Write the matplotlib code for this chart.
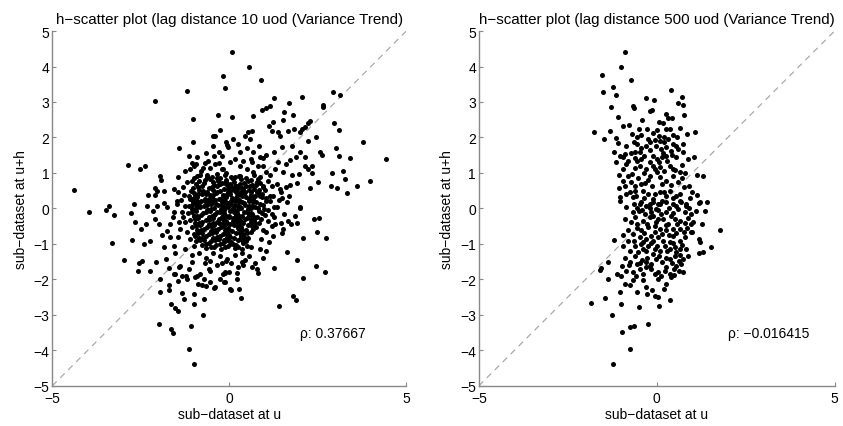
import numpy as np
import matplotlib
matplotlib.use("Agg")
import matplotlib.pyplot as plt

plt.rcParams['font.family'] = ['Liberation Sans', 'DejaVu Sans']

# ---- data (u, u+h) ----
# lag 10: sparse outer points
lag10_outer = [
    (-4.40, 0.52), (-2.11, 3.04), (-1.20, 3.31), (-0.18, 3.74), (-0.11, 3.39), (-1.03, 2.52),
    (-0.33, 2.64), (-0.25, 2.22), (-0.46, 2.05), (-0.40, 2.03), (-1.03, 1.88), (-1.41, 1.71),
    (-0.66, 1.56), (-0.46, 1.75), (-0.44, 1.49), (-1.14, 1.49), (-1.05, 1.28), (-0.99, 1.21),
    (-0.94, 1.24), (-2.87, 1.22), (-2.53, 1.12), (-2.38, 1.20), (-1.95, 0.91), (-1.93, 0.80),
    (-1.44, 0.90), (-1.20, 0.74), (-1.06, 0.77), (-1.01, 0.86), (-0.91, 0.91), (-0.84, 0.93),
    (-0.70, 1.28), (-0.59, 1.33), (-0.28, 1.28), (-0.21, 1.10), (-0.07, 1.80), (-2.09, 0.58),
    (-2.04, 0.49), (-1.84, 0.49), (-1.55, 0.55), (-2.29, 0.37), (-2.09, 0.37), (-1.84, 0.16),
    (-2.70, 0.13), (-3.39, 0.06), (-1.29, 0.39), (-1.15, 0.35), (-1.01, 0.44), (-1.48, 0.20),
    (-2.33, 0.06),
    (-3.95, -0.09), (-3.48, -0.05), (-3.25, -0.19), (-3.31, -0.98), (-2.98, -1.46), (-2.78, -0.14),
    (-2.66, -0.38), (-2.75, -0.88), (-2.50, -0.59), (-2.40, -1.01), (-2.34, -0.44), (-2.16, -0.06),
    (-2.23, -0.92), (-2.55, -1.53), (-2.46, -1.48), (-2.58, -1.77), (-2.25, -1.75), (-2.06, -1.51),
    (-1.95, -2.00), (-1.99, -0.43), (-1.95, -2.36), (-1.71, -2.31), (-1.65, -2.70), (-1.53, -2.80),
    (-1.44, -2.89), (-1.98, -3.25), (-1.65, -3.39), (-1.60, -3.50), (-1.13, -3.97), (-1.01, -4.39),
    (-1.07, -3.31), (-0.75, -3.00), (-0.72, -2.56), (-0.99, -2.68), (-0.99, -2.42), (-1.34, -2.39),
    (-1.29, -2.54), (-1.22, -1.89), (-0.91, -1.91), (-0.72, -1.98), (-0.67, -2.19), (-0.88, -2.14),
    (-0.42, -2.23), (-0.54, -2.08), (-0.16, -2.07), (-0.11, -1.83), (0.01, -2.28), (-1.57, -1.86),
    (-1.71, -1.67), (-1.78, -1.42), (-1.46, -2.05), (-1.38, -1.62), (-1.53, -1.25),
    (2.01, 0.02), (2.40, -0.31), (2.53, -0.27), (1.92, -0.40), (2.47, -0.67), (2.74, -0.83),
    (2.08, -0.83), (1.53, -0.57), (1.48, -0.69), (1.20, -0.50), (1.24, -0.78), (1.62, -1.22),
    (1.90, -1.46), (2.46, -1.62), (2.71, -1.79), (2.09, -1.96), (1.27, -1.68), (1.81, -2.47),
    (1.88, -2.59), (1.41, -2.76), (0.73, -1.53), (0.77, -1.72), (0.82, -1.81), (0.40, -1.58),
    (0.23, -1.83), (0.00, -1.79), (-0.11, -2.06), (0.04, -2.30), (0.26, -2.26), (0.33, -2.52),
    (-0.08, -1.48), (-0.19, -1.86), (0.96, -1.39), (1.05, -1.20), (0.87, -1.15),
    (0.07, 4.41), (0.56, 3.98), (0.89, 3.62), (2.94, 3.27), (3.14, 3.20), (2.66, 2.91),
    (2.64, 2.85), (2.04, 3.15), (1.70, 2.96), (1.26, 3.10), (1.15, 2.90), (0.91, 2.78),
    (1.04, 2.82), (0.08, 2.58), (0.68, 2.60), (1.55, 2.71), (1.79, 2.63), (1.52, 2.50),
    (2.28, 2.47), (2.23, 2.41), (1.24, 2.45), (1.13, 2.31), (1.22, 2.19), (2.14, 2.29),
    (2.04, 2.24), (2.00, 2.15), (1.83, 2.24), (1.65, 2.19), (1.38, 2.15), (1.43, 2.03),
    (2.96, 2.41), (3.10, 2.21), (2.44, 2.00), (3.79, 1.86), (2.23, 1.91), (3.01, 1.71),
    (2.56, 1.58), (2.61, 1.52), (3.09, 1.47), (3.42, 1.41), (4.42, 1.39), (1.48, 1.72),
    (1.76, 1.77), (2.00, 1.60), (2.14, 1.46), (1.88, 1.44), (1.71, 1.37), (1.05, 1.51),
    (0.94, 1.41), (1.38, 1.30), (2.14, 1.19), (2.23, 1.11), (2.33, 1.21), (1.98, 0.97),
    (2.33, 1.00), (1.53, 1.02), (1.78, 0.94), (1.72, 0.66), (1.90, 0.72), (1.43, 0.55),
    (2.28, 0.59), (2.50, 0.74), (2.90, 0.99), (3.20, 1.06), (3.28, 0.84), (2.88, 0.64),
    (3.05, 0.57), (3.32, 0.44), (3.62, 0.64), (3.98, 0.76), (2.00, 0.03), (1.62, 0.17),
    (1.24, 0.36),
]

# lag 10: mid ring around the core
lag10_mid = [
    (-0.08, 1.86), (-0.03, 1.72), (0.11, 1.96), (0.25, 1.82), (0.44, 2.05), (0.54, 2.15),
    (0.63, 2.19), (0.58, 1.96), (0.30, 1.58), (0.16, 1.39), (0.02, 1.30), (-0.17, 1.11),
    (-0.22, 1.49), (0.40, 1.35), (0.68, 1.58), (0.87, 1.44), (0.63, 1.30), (0.49, 1.11),
    (0.30, 0.92), (0.11, 0.83), (-0.08, 0.74), (0.68, 1.02), (0.87, 0.88), (0.96, 1.21),
    (1.05, 1.02), (0.77, 0.74), (0.58, 0.64), (0.40, 0.55), (0.21, 0.46), (0.96, 0.64),
    (1.10, 0.78), (1.15, 0.36), (0.87, 0.36), (0.68, 0.27), (-0.08, 0.36), (-0.17, 0.17),
    (-0.80, 1.05), (-0.55, 1.15), (-0.35, 0.98), (-1.25, 1.05), (-0.62, 0.88),
    (-1.48, 0.13), (-1.76, 0.03), (-2.04, 0.08), (-1.57, -0.11), (-1.34, -0.11), (-1.24, -0.39),
    (-1.43, -0.39), (-1.67, -0.44), (-1.76, -0.63), (-1.67, -0.81), (-1.57, -1.05), (-1.38, -0.58),
    (-1.20, -0.67), (-1.10, -0.86), (-0.96, -0.77), (-1.01, -0.20), (-1.24, 0.08), (-1.06, 0.27),
    (-1.71, -2.17), (-1.52, -1.85), (-1.43, -1.66), (-1.34, -1.89), (-1.20, -1.99), (-1.15, -1.70),
    (-1.06, -1.52), (-0.96, -1.94), (-0.82, -1.85), (-0.77, -2.17), (-0.58, -1.70), (-0.54, -1.47),
    (-0.40, -2.22), (-0.26, -1.99), (-0.12, -1.80), (-0.07, -1.42), (0.22, -1.99),
    (1.15, 0.20), (1.35, 0.05), (1.55, -0.15), (1.25, -0.25), (1.70, 0.35), (1.10, -0.05),
    (1.45, 0.45), (1.85, -0.20), (1.30, -0.45), (1.05, -0.65), (1.60, 0.60), (1.20, 0.62),
    (1.40, 0.25), (1.75, -0.45), (1.12, -0.95),
    (-0.45, -1.25), (-0.25, -1.35), (0.15, -1.30), (0.35, -1.25), (0.55, -1.35), (-0.65, -1.40),
    (0.05, -1.55), (0.45, -1.45), (-0.35, -1.60), (0.60, -1.10), (-0.85, -1.25), (0.25, -1.65),
    (-0.55, -1.75), (0.65, -1.65),
    (1.25, 0.05), (1.50, 0.30), (1.35, 0.70), (1.65, -0.35), (1.05, 0.30), (1.20, -0.15),
    (1.45, -0.40), (1.15, 0.95), (1.30, 1.10), (0.80, 1.20), (0.60, 1.40), (0.30, 1.20),
    (-0.10, 1.00), (-0.40, 1.25), (-0.75, 1.15), (-1.10, 1.10), (-1.30, 0.60), (-1.45, 0.45),
    (-1.35, 0.25), (-1.30, -0.25), (-1.45, -0.80), (-1.25, -1.15), (-1.05, -1.30), (-1.00, -1.05),
    (-0.70, -1.55), (-0.20, -1.55), (0.35, -1.50), (0.90, -0.85), (0.95, -0.60), (1.10, -0.35),
    (-1.60, -0.25), (-1.90, -0.75), (-1.85, -1.10), (-2.10, -0.30), (-0.90, 1.45), (-0.30, 1.60),
    (0.50, 1.70), (0.85, 1.75), (1.25, 1.60), (1.60, 1.25),
]

# lag 10: dense core (estimated, too crowded to read one by one)
lag10_core = [
    (-0.62, 0.93), (-0.35, 0.87), (-0.12, 0.95), (0.05, 0.88), (0.28, 0.92), (0.46, 0.86), (0.71, 0.94),
    (-0.85, 0.78), (-0.55, 0.83), (-0.31, 0.76), (-0.08, 0.81), (0.14, 0.75), (0.33, 0.82), (0.52, 0.77),
    (0.80, 0.83), (-0.95, 0.68), (-0.71, 0.72), (-0.44, 0.66), (-0.22, 0.73), (0.02, 0.69), (0.19, 0.64),
    (0.41, 0.71), (0.63, 0.67), (0.88, 0.72), (-1.02, 0.57), (-0.78, 0.62), (-0.57, 0.58), (-0.36, 0.63),
    (-0.15, 0.56), (0.07, 0.61), (0.25, 0.58), (0.48, 0.63), (0.69, 0.56), (0.95, 0.60), (-1.08, 0.48),
    (-0.86, 0.52), (-0.64, 0.46), (-0.45, 0.53), (-0.26, 0.49), (-0.05, 0.45), (0.12, 0.52), (0.33, 0.47),
    (0.55, 0.51), (0.77, 0.46), (1.02, 0.52), (-0.98, 0.38), (-0.77, 0.42), (-0.55, 0.37), (-0.37, 0.43),
    (-0.18, 0.39), (0.01, 0.41), (0.21, 0.36), (0.41, 0.42), (0.60, 0.38), (0.84, 0.41), (-1.12, 0.28),
    (-0.90, 0.32), (-0.68, 0.27), (-0.48, 0.31), (-0.29, 0.26), (-0.10, 0.33), (0.09, 0.29), (0.28, 0.25),
    (0.47, 0.32), (0.68, 0.28), (0.91, 0.31), (-1.03, 0.18), (-0.81, 0.22), (-0.60, 0.17), (-0.41, 0.23),
    (-0.22, 0.19), (-0.03, 0.16), (0.16, 0.22), (0.36, 0.18), (0.55, 0.21), (0.76, 0.17), (1.05, 0.22),
    (-1.15, 0.08), (-0.93, 0.12), (-0.71, 0.07), (-0.52, 0.13), (-0.33, 0.09), (-0.13, 0.06), (0.06, 0.12),
    (0.25, 0.08), (0.44, 0.11), (0.64, 0.07), (0.86, 0.12), (-1.06, -0.02), (-0.84, 0.03), (-0.63, -0.03),
    (-0.44, 0.02), (-0.24, -0.01), (-0.05, 0.03), (0.14, -0.04), (0.33, 0.01), (0.52, -0.02), (0.73, 0.03),
    (0.97, -0.01), (-1.18, -0.12), (-0.95, -0.08), (-0.74, -0.13), (-0.55, -0.07), (-0.35, -0.11),
    (-0.16, -0.14), (0.03, -0.08), (0.22, -0.12), (0.41, -0.09), (0.61, -0.13), (0.83, -0.07),
    (-1.00, -0.22), (-0.79, -0.18), (-0.58, -0.23), (-0.39, -0.17), (-0.19, -0.21), (0.00, -0.24),
    (0.18, -0.18), (0.37, -0.22), (0.57, -0.19), (0.78, -0.23), (1.01, -0.18), (-1.10, -0.32),
    (-0.88, -0.28), (-0.67, -0.33), (-0.47, -0.27), (-0.28, -0.31), (-0.09, -0.34), (0.10, -0.28),
    (0.29, -0.32), (0.49, -0.27), (0.70, -0.33), (-0.97, -0.42), (-0.76, -0.38), (-0.56, -0.43),
    (-0.36, -0.37), (-0.17, -0.41), (0.02, -0.44), (0.21, -0.38), (0.40, -0.42), (0.60, -0.37),
    (0.85, -0.41), (-1.05, -0.52), (-0.83, -0.48), (-0.63, -0.53), (-0.43, -0.47), (-0.24, -0.51),
    (-0.05, -0.54), (0.14, -0.48), (0.33, -0.52), (0.53, -0.47), (0.76, -0.51), (-0.92, -0.62),
    (-0.71, -0.58), (-0.51, -0.63), (-0.31, -0.57), (-0.12, -0.61), (0.07, -0.64), (0.26, -0.58),
    (0.46, -0.62), (0.68, -0.57), (-1.00, -0.72), (-0.78, -0.68), (-0.57, -0.73), (-0.38, -0.67),
    (-0.19, -0.71), (0.00, -0.74), (0.19, -0.68), (0.39, -0.72), (0.60, -0.67), (-0.86, -0.82),
    (-0.65, -0.78), (-0.45, -0.83), (-0.26, -0.77), (-0.07, -0.81), (0.12, -0.84), (0.32, -0.78),
    (0.53, -0.82), (-0.93, -0.92), (-0.71, -0.88), (-0.51, -0.93), (-0.32, -0.87), (-0.13, -0.91),
    (0.06, -0.94), (0.25, -0.88), (0.47, -0.92), (-0.78, -1.02), (-0.56, -0.98), (-0.37, -1.03),
    (-0.18, -0.97), (0.01, -1.01), (0.20, -1.04), (0.40, -0.98), (-0.65, -1.12), (-0.43, -1.08),
    (-0.23, -1.13), (-0.04, -1.07), (0.15, -1.11), (0.35, -1.14),
    (-0.50, 0.35), (-0.20, 0.30), (0.18, 0.45), (-0.38, 0.12), (0.05, 0.20), (0.30, 0.05),
    (-0.60, -0.05), (-0.15, -0.05), (0.45, -0.30), (-0.30, -0.40), (0.10, -0.35), (-0.55, -0.30),
    (0.25, -0.55), (-0.10, -0.65), (-0.45, -0.60), (0.55, 0.25), (-0.70, 0.20), (0.20, 0.62),
    (-0.25, 0.68), (0.50, -0.70), (-0.80, -0.45), (0.65, -0.15), (-0.05, 0.55), (0.35, 0.35),
    (-0.65, 0.40), (0.00, -0.20), (-0.20, -0.25), (0.20, -0.10), (-0.42, -0.18), (0.42, 0.15),
    (-0.85, 0.10), (0.80, 0.00), (-0.30, -0.85), (0.30, -0.85), (0.10, 0.00), (-0.10, 0.15),
    (0.60, 0.45), (-0.90, -0.25), (0.90, -0.30), (-0.15, -0.90),
    (-0.50, 0.90), (-0.25, 0.85), (0.15, 0.90), (0.60, 0.80), (-0.70, 0.80), (-0.45, 0.75),
    (-0.10, 0.70), (0.30, 0.70), (0.75, 0.65), (-0.88, 0.60), (-0.48, 0.60), (-0.05, 0.62),
    (0.37, 0.58), (0.83, 0.52), (-0.75, 0.48), (-0.35, 0.45), (0.02, 0.48), (0.45, 0.45),
    (0.92, 0.42), (-0.88, 0.40), (-0.45, 0.38), (-0.08, 0.38), (0.30, 0.40), (0.72, 0.36),
    (-1.00, 0.30), (-0.58, 0.28), (-0.18, 0.28), (0.18, 0.30), (0.58, 0.30), (-0.92, 0.20),
    (-0.50, 0.18), (-0.12, 0.22), (0.26, 0.18), (0.66, 0.19), (-1.05, 0.10), (-0.62, 0.10),
    (-0.22, 0.10), (0.15, 0.09), (0.55, 0.08), (0.96, 0.10), (-0.95, 0.00), (-0.52, -0.02),
    (-0.14, 0.00), (0.24, -0.02), (0.62, 0.00), (-1.06, -0.10), (-0.65, -0.10), (-0.26, -0.09),
    (0.12, -0.10), (0.51, -0.11), (0.93, -0.12), (-0.90, -0.20), (-0.48, -0.22), (-0.10, -0.20),
    (0.28, -0.20), (0.68, -0.20), (-0.98, -0.30), (-0.57, -0.30), (-0.18, -0.30), (0.20, -0.30),
    (0.60, -0.30), (-0.86, -0.40), (-0.46, -0.40), (-0.07, -0.40), (0.30, -0.40), (0.72, -0.40),
    (-0.94, -0.50), (-0.53, -0.50), (-0.14, -0.50), (0.24, -0.50), (0.64, -0.50), (-0.81, -0.60),
    (-0.41, -0.60), (-0.02, -0.60), (0.36, -0.60), (-0.89, -0.70), (-0.48, -0.70), (-0.09, -0.70),
    (0.29, -0.70), (-0.75, -0.80), (-0.35, -0.80), (0.02, -0.80), (0.42, -0.80), (-0.82, -0.90),
    (-0.41, -0.90), (-0.03, -0.90), (0.36, -0.90), (-0.66, -1.00), (-0.27, -1.00), (0.10, -1.00),
    (0.50, -1.05), (-0.53, -1.10), (-0.13, -1.10), (0.25, -1.10),
]

# lag 500
lag500_pts = [
    (-0.89, 4.41), (-0.99, 3.98), (-1.54, 3.77), (-0.72, 3.62), (-1.51, 3.27), (-1.23, 3.41),
    (-1.13, 3.21), (0.40, 3.33), (-0.29, 3.10), (-0.07, 3.06), (0.71, 3.15), (0.59, 2.97),
    (0.75, 2.92), (-1.29, 2.86), (-0.68, 2.88), (-0.65, 2.82), (-0.18, 2.75), (-0.12, 2.78),
    (-1.10, 2.58), (-0.41, 2.50), (0.27, 2.65), (0.32, 2.54), (0.78, 2.64), (0.06, 2.45),
    (0.18, 2.41), (0.44, 2.54), (-0.95, 2.31), (-0.78, 2.35), (-1.76, 2.16), (-1.32, 2.19),
    (-1.49, 1.96), (-1.15, 1.99), (-1.09, 1.84), (-0.50, 2.24), (-0.43, 2.07), (-0.26, 2.24),
    (0.01, 2.20), (0.06, 2.05), (0.27, 2.24), (0.36, 2.24), (0.65, 2.27), (0.84, 2.11),
    (1.08, 2.15), (0.58, 2.00), (-0.54, 2.00), (-0.55, 1.82), (-0.24, 1.96), (-0.18, 1.86),
    (-0.06, 1.93), (0.08, 1.91), (0.20, 1.86), (0.32, 1.96), (-0.31, 1.77), (-0.01, 1.75),
    (0.11, 1.68), (0.46, 1.82), (0.55, 1.75), (0.61, 1.68), (-1.20, 1.60), (-1.02, 1.49),
    (-0.95, 1.44), (-0.90, 1.54), (-0.71, 1.56), (-0.62, 1.60), (-0.48, 1.58), (-0.20, 1.66),
    (-0.10, 1.49), (0.18, 1.56), (0.27, 1.49), (0.44, 1.51), (0.73, 1.60), (1.04, 1.45),
    (-1.13, 1.30), (-0.85, 1.25), (-0.55, 1.35), (-0.48, 1.21), (-0.43, 1.39), (-0.29, 1.11),
    (-0.10, 1.21), (0.07, 1.30), (0.36, 1.21), (0.51, 1.07), (0.65, 1.02), (0.71, 1.22),
    (-1.06, 0.94), (-0.81, 0.92), (-0.71, 0.74), (-0.52, 0.85), (-0.34, 0.72), (-0.20, 0.92),
    (0.01, 1.02), (0.08, 0.88), (0.27, 0.78), (0.46, 0.92), (0.60, 0.74), (1.12, 0.94),
    (1.30, 0.92), (-1.07, 0.57), (-0.90, 0.64), (-0.76, 0.46), (-0.57, 0.36), (-0.38, 0.50),
    (-0.24, 0.41), (-0.10, 0.27), (0.08, 0.46), (0.27, 0.36), (0.36, 0.50), (0.55, 0.36),
    (0.76, 0.60), (1.00, 0.47), (1.14, 0.38), (1.21, 0.17), (1.40, 0.17), (-1.02, 0.31),
    (-0.68, 0.31), (-0.48, 0.13), (-0.20, 0.13), (0.04, 0.13), (0.16, 0.22), (0.69, 0.17),
    (0.83, 0.08),
    (1.79, -0.60), (1.54, -1.09), (1.30, -1.23), (1.18, -1.25), (1.28, -0.44), (1.36, -0.08),
    (1.19, 0.15), (1.02, -0.39), (1.00, -0.65), (1.19, -0.86), (1.21, -0.95), (-1.20, -0.89),
    (-1.56, -1.69), (-1.60, -1.73), (-1.38, -1.50), (-1.37, -1.99), (-0.98, -1.63), (-1.11, -1.84),
    (-1.85, -2.67), (-1.44, -2.53), (-1.27, -2.99), (-1.01, -2.69), (-0.97, -3.49), (-0.76, -3.35),
    (-0.65, -3.30), (-0.25, -3.25), (-0.74, -3.96), (-1.22, -4.38), (-0.50, -2.78), (0.06, -2.75),
    (0.37, -2.57), (-1.04, -2.36), (-0.76, -2.15), (-0.90, -2.13), (-0.67, -2.03), (-0.55, -2.36),
    (-0.38, -2.03), (-0.31, -2.22), (-0.27, -2.41), (-0.12, -2.29), (-0.06, -2.47), (0.04, -2.50),
    (0.20, -2.27), (0.25, -2.13), (-0.85, -1.75), (-0.68, -1.78), (-0.55, -1.56), (-0.48, -1.70),
    (-0.29, -1.66), (-0.20, -1.61), (-0.06, -1.84), (0.04, -1.99), (0.13, -1.89), (0.22, -1.75),
    (0.27, -1.66), (0.36, -1.84), (0.41, -1.94), (0.48, -1.72), (0.55, -1.61), (0.63, -1.47),
    (0.69, -1.56), (0.74, -1.80), (-0.74, -1.50), (-0.40, -1.45), (-0.27, -1.40), (-0.15, -1.56),
    (-0.01, -1.42), (0.07, -1.33), (0.25, -1.40), (0.38, -1.42), (0.51, -1.33), (0.55, -1.23),
    (0.65, -1.31), (-0.74, -1.19), (-0.52, -1.23), (-0.38, -1.14), (-0.24, -1.05), (-0.06, -1.14),
    (0.08, -1.19), (0.22, -1.05), (0.36, -1.14), (0.51, -1.09), (0.65, -1.14), (0.83, -1.14),
    (0.88, -1.33), (-0.81, -0.91), (-0.65, -0.93), (-0.48, -0.81), (-0.38, -0.95), (-0.29, -0.86),
    (-0.10, -0.91), (0.04, -0.81), (0.18, -0.91), (0.36, -0.95), (0.46, -0.78), (0.65, -0.91),
    (0.79, -0.81), (-0.81, -0.62), (-0.67, -0.72), (-0.43, -0.62), (-0.24, -0.53), (-0.06, -0.67),
    (0.08, -0.58), (0.27, -0.62), (0.46, -0.58), (0.65, -0.58), (0.76, -0.67), (0.97, -0.67),
    (-0.71, -0.39), (-0.55, -0.44), (-0.38, -0.34), (-0.20, -0.25), (-0.01, -0.39), (0.18, -0.30),
    (0.32, -0.44), (0.51, -0.30), (0.65, -0.34), (0.79, -0.41), (0.97, -0.44), (-0.67, -0.11),
    (-0.50, -0.06), (-0.34, -0.15), (-0.15, -0.09), (-0.01, -0.01), (0.13, -0.15), (0.27, -0.09),
    (0.46, -0.13), (0.60, -0.01), (0.79, -0.11), (0.97, -0.15), (1.11, -0.06), (-0.65, 0.13),
    (-0.43, 0.17), (-0.29, 0.08), (-0.10, 0.17), (0.08, 0.13), (0.27, 0.17), (0.46, 0.13),
    (0.65, 0.22), (0.83, 0.13), (-1.04, 0.22),
    (-0.70, 2.10), (-0.10, 2.12), (0.45, 2.08), (0.20, 2.02), (-0.85, 1.75), (-0.45, 1.70),
    (0.25, 1.72), (0.75, 1.82), (-0.65, 1.88), (0.40, 1.62), (-0.80, 1.35), (-0.35, 1.48),
    (0.00, 1.38), (0.30, 1.35), (0.55, 1.45), (0.88, 1.40), (-0.60, 1.42), (-0.20, 1.30),
    (0.15, 1.45), (-0.95, 1.10), (-0.60, 1.15), (-0.35, 1.00), (-0.05, 1.10), (0.20, 1.05),
    (0.45, 1.12), (0.80, 1.00), (-0.70, 0.98), (0.10, 1.18), (-0.95, 0.78), (-0.60, 0.62),
    (-0.45, 0.68), (-0.12, 0.62), (0.15, 0.70), (0.40, 0.66), (0.70, 0.85), (0.90, 0.62),
    (-0.25, 0.80), (-0.85, 0.40), (-0.35, 0.30), (-0.05, 0.42), (0.20, 0.45), (0.45, 0.30),
    (0.65, 0.42), (0.95, 0.30), (-0.60, 0.48), (-0.85, 0.05), (-0.55, 0.02), (-0.20, 0.00),
    (0.05, -0.05), (0.35, 0.02), (0.55, 0.08), (0.90, 0.00), (-0.40, -0.05), (-0.90, -0.30),
    (-0.60, -0.25), (-0.28, -0.45), (-0.10, -0.22), (0.05, -0.30), (0.40, -0.22), (0.58, -0.45),
    (0.88, -0.28), (0.25, -0.48), (-0.95, -0.75), (-0.55, -0.55), (-0.35, -0.70), (-0.15, -0.78),
    (0.15, -0.72), (0.35, -0.75), (0.55, -0.68), (0.85, -0.55), (-0.05, -0.50), (-0.95, -1.05),
    (-0.60, -1.05), (-0.45, -1.00), (-0.15, -0.98), (0.00, -1.05), (0.28, -1.20), (0.45, -0.98),
    (0.72, -1.02), (-0.30, -1.20), (-0.90, -1.40), (-0.62, -1.35), (-0.48, -1.55), (-0.10, -1.28),
    (0.15, -1.50), (0.42, -1.55), (0.75, -1.42), (-0.30, -1.50), (-1.00, -1.90), (-0.58, -1.90),
    (-0.38, -1.85), (-0.15, -1.72), (0.05, -1.80), (0.50, -1.88), (0.62, -1.75), (-0.78, -1.60),
]

titles = ['h\u2212scatter plot (lag distance 10 uod (Variance Trend)',
          'h\u2212scatter plot (lag distance 500 uod (Variance Trend)']
rho_labels = ['\u03c1: 0.37667', '\u03c1: \u22120.016415']
lims = [-5, 5]

lag10 = np.array(lag10_outer + lag10_mid + lag10_core)
lag500 = np.array(lag500_pts)

fig = plt.figure(figsize=(8.43, 4.27), dpi=100)
ax1 = fig.add_axes([0.062, 0.094, 0.420, 0.831])
ax2 = fig.add_axes([0.568, 0.094, 0.422, 0.831])

for ax, pts, title, rho in zip([ax1, ax2], [lag10, lag500], titles, rho_labels):
    ax.plot(lims, lims, ls=(0, (5, 4)), color='#aaaaaa', lw=0.9, zorder=1)
    ax.scatter(pts[:, 0], pts[:, 1], s=13, c='k', linewidths=0, zorder=2)
    ax.set_xlim(lims)
    ax.set_ylim(lims)
    ax.set_xticks([-5, 0, 5])
    ax.set_yticks(range(-5, 6))
    for side in ['top', 'right']:
        ax.spines[side].set_visible(False)
    for side in ['left', 'bottom']:
        ax.spines[side].set_color('#888888')
        ax.spines[side].set_linewidth(1.0)
    ax.tick_params(direction='in', length=3, color='#888888', labelsize=10)
    ax.tick_params(axis='y', pad=2)
    ax.tick_params(axis='x', pad=4)
    ax.set_title(title, fontsize=10.9, pad=6)
    ax.set_xlabel('sub\u2212dataset at u', fontsize=10, labelpad=1)
    ax.set_ylabel('sub\u2212dataset at u+h', fontsize=10, labelpad=4)
    ax.text(2.0, -3.5, rho, fontsize=10, va='center')

fig.savefig('out.png', dpi=100)
